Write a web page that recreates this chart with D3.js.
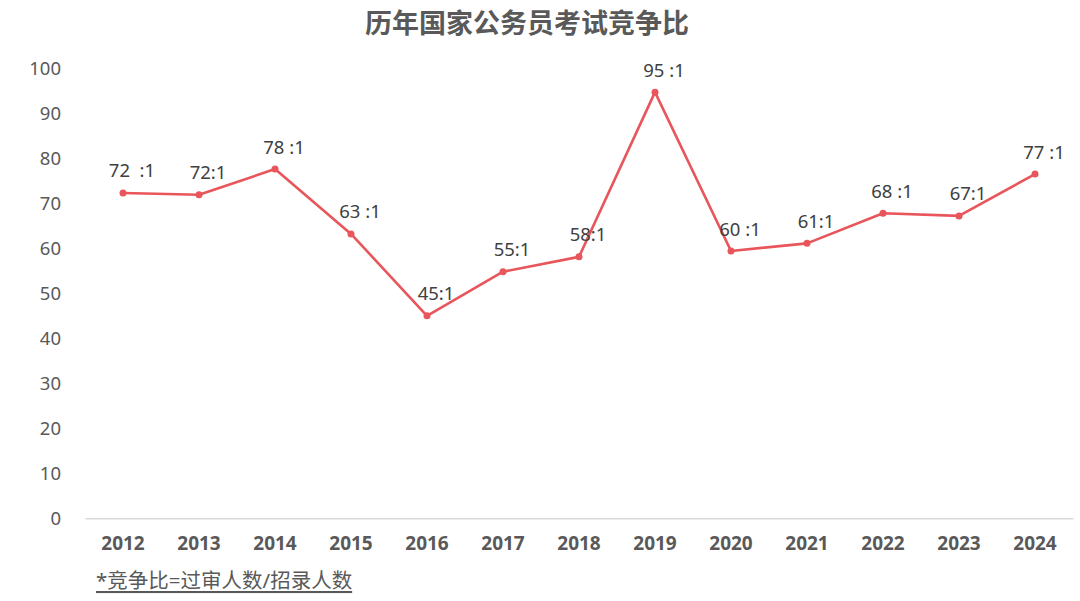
<!DOCTYPE html>
<html><head><meta charset="utf-8">
<script src="https://cdn.jsdelivr.net/npm/d3@7"></script>
<style>body{margin:0;background:#fff;} svg{display:block;}</style>
</head><body>
<svg id="c" width="1080" height="601"></svg>
<script>
const years = ["2012","2013","2014","2015","2016","2017","2018","2019","2020","2021","2022","2023","2024"];
const ratios = [72.3, 71.9, 77.6, 63.2, 45.0, 54.8, 58.1, 94.7, 59.4, 61.1, 67.8, 67.2, 76.5];
const labels = ["72  :1","72:1","78 :1","63 :1","45:1","55:1","58:1","95 :1","60 :1","61:1","68 :1","67:1","77 :1"];
const yTicks = [0,10,20,30,40,50,60,70,80,90,100];
const title = "历年国家公务员考试竞争比";
const note = "*竞争比=过审人数/招录人数";

const svg = d3.select("#c");
const font = "'Noto Sans','Noto Sans CJK SC',sans-serif";
const gray = "#595959";
const red = "#E8555A";

const x = d3.scaleBand().domain(years).range([85, 1073]);
const y = d3.scaleLinear().domain([0, 100]).range([518.3, 68.3]);
const cx = d => x(d) + x.bandwidth()/2;

svg.append("text").attr("x", 527).attr("y", 22).attr("text-anchor","middle")
  .attr("dominant-baseline","central").attr("font-family", font).attr("font-weight","bold")
  .attr("font-size", 27).attr("fill", gray).text(title);

// y axis
const ya = svg.append("g").attr("transform","translate(61,0)")
  .call(d3.axisLeft(y).tickValues(yTicks).tickSize(0).tickPadding(0));
ya.select(".domain").remove();
ya.selectAll("text").attr("font-family", font).attr("font-size", 18.5).attr("fill", gray);

// x axis
const xa = svg.append("g").attr("transform","translate(0,518.3)")
  .call(d3.axisBottom(x).tickSize(0).tickPadding(18));
xa.select(".domain").attr("stroke","#D9D9D9").attr("stroke-width",1.5);
xa.selectAll("text").attr("font-family", font).attr("font-size", 19).attr("font-weight","bold").attr("fill", gray);

const pts = years.map((yr,i)=>({yr, v: ratios[i], l: labels[i]}));

svg.append("path").datum(pts)
  .attr("d", d3.line().x(d=>cx(d.yr)).y(d=>y(d.v)))
  .attr("fill","none").attr("stroke", red).attr("stroke-width", 2.6).attr("stroke-linejoin","round");

svg.selectAll("circle.p").data(pts).join("circle")
  .attr("cx", d=>cx(d.yr)).attr("cy", d=>y(d.v)).attr("r", 3.5).attr("fill", red);

svg.selectAll("text.lbl").data(pts).join("text").attr("class","lbl")
  .attr("x", d=>cx(d.yr)+9).attr("y", d=>y(d.v)-23)
  .attr("text-anchor","middle").attr("dominant-baseline","central")
  .attr("font-family", font).attr("font-size", 18.5).attr("fill", "#404040")
  .attr("xml:space","preserve").style("white-space","pre").text(d=>d.l);

svg.append("text").attr("x", 96).attr("y", 580).attr("dominant-baseline","central")
  .attr("font-family", font).attr("font-size", 20.5).attr("fill", gray)
  .attr("text-decoration","underline").text(note);
</script>
</body></html>
